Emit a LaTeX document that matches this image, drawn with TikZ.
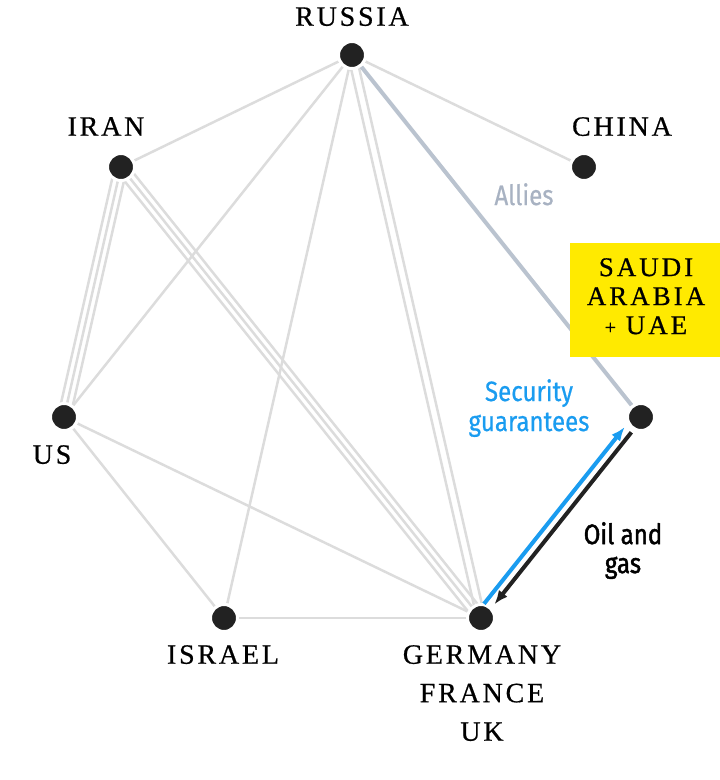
\documentclass[tikz,border=0pt]{standalone}
\usepackage{fontspec}
\setmainfont{Liberation Serif}
\newfontfamily\countryfont[LetterSpace=10,FakeBold=0.6]{Liberation Serif}
\newfontfamily\boxfont[LetterSpace=11,FakeBold=0.6]{Liberation Serif}
\newfontfamily\notefont[FakeStretch=0.86,FakeBold=0.6]{Fira Sans}
\newfontfamily\oilfont[FakeStretch=0.86,FakeBold=1.6]{Fira Sans}
\usepackage{tikz}
\usetikzlibrary{arrows.meta, calc, backgrounds}
\definecolor{dotblack}{HTML}{222222}
\definecolor{linkgray}{HTML}{DCDCDC}
\definecolor{allygray}{HTML}{BAC3CF}
\definecolor{allytext}{HTML}{A8B2C2}
\definecolor{secblue}{HTML}{1A9CF0}
\definecolor{boxyellow}{HTML}{FFEA00}

\begin{document}
\begin{tikzpicture}[
  x=1pt, y=-1pt,
  dot/.style={circle, fill=dotblack, draw=white, line width=3pt,
              minimum size=27pt, inner sep=0pt},
  country/.style={font={\countryfont\fontsize{28}{38.5}\selectfont},
                  anchor=north, align=center, inner sep=0pt},
  sabox/.style={fill=boxyellow, minimum width=150pt, minimum height=114pt,
                inner sep=0pt},
  boxtext/.style={font={\boxfont\fontsize{27}{29}\selectfont},
                  anchor=north, align=center, inner sep=0pt},
  note/.style={font={\notefont\fontsize{28}{30}\selectfont},
               anchor=north, align=center, inner sep=0pt},
  rel/.style={draw=linkgray, line width=2.5pt},
  ally/.style={draw=allygray, line width=4pt},
  secarr/.style={draw=secblue, line width=4pt, -{Latex[length=14pt,width=11pt]}},
  oilarr/.style={draw=dotblack, line width=4pt, -{Latex[length=14pt,width=11pt]}}
]
\useasboundingbox (0,0) rectangle (720,780);

%% countries
\node[dot] (ru) at (352,55)  {};
\node[dot] (ir) at (121,167) {};
\node[dot] (cn) at (584,167) {};
\node[dot] (us) at (64,417)  {};
\node[dot] (sa) at (641,417) {};
\node[dot] (il) at (224,618) {};
\node[dot] (eu) at (481,618) {};

%% names
\node[country] (rulbl) at (352,7)   {RUSSIA};
\node[country] (irlbl) at (106,117) {IRAN};
\node[country] (cnlbl) at (622,117) {CHINA};
\node[country] (uslbl) at (52,445)  {US};
\node[country] (illbl) at (223,645) {ISRAEL};
\node[country] (eulbl) at (482,645) {GERMANY\\FRANCE\\UK};

% yellow box
\node[sabox] (sabx) at (645,300) {};
\node[boxtext] (salbl) at (646,258) {SAUDI\\ARABIA\\{\fontsize{20}{29}\selectfont+} UAE};

%% links
\begin{scope}[on background layer]
  \foreach \a/\b in {ru/ir, ru/cn, ru/us, ru/il, us/il, us/eu, il/eu}
    \draw[rel] (\a) -- (\b);
  \foreach \o in {-4pt,4pt}
    \draw[rel] ($(ru.center)!\o!90:(eu.center)$) -- ($(eu.center)!\o!-90:(ru.center)$);
  \foreach \o in {-6pt,0pt,6pt} {
    \draw[rel] ($(ir.center)!\o!90:(us.center)$) -- ($(us.center)!\o!-90:(ir.center)$);
    \draw[rel] ($(ir.center)!\o!90:(eu.center)$) -- ($(eu.center)!\o!-90:(ir.center)$);
  }
  \draw[ally] (ru) -- (sa);
\end{scope}

%% flows
\draw[secarr, shorten <=13pt, shorten >=18pt]
  ($(eu.center)!6.5pt!90:(sa.center)$) -- ($(sa.center)!6.5pt!-90:(eu.center)$);
\draw[oilarr, shorten <=18pt, shorten >=19pt]
  ($(sa.center)!2pt!90:(eu.center)$) -- ($(eu.center)!2pt!-90:(sa.center)$);

%% notes
\node[note, text=allytext] (allylbl) at (524,183) {Allies};
\node[note, text=secblue] (seclbl) at (529,379) {Security\\guarantees};
\node[note, font={\oilfont\fontsize{28}{29}\selectfont}] (oillbl) at (623,522) {Oil and\\gas};

\end{tikzpicture}
\end{document}
